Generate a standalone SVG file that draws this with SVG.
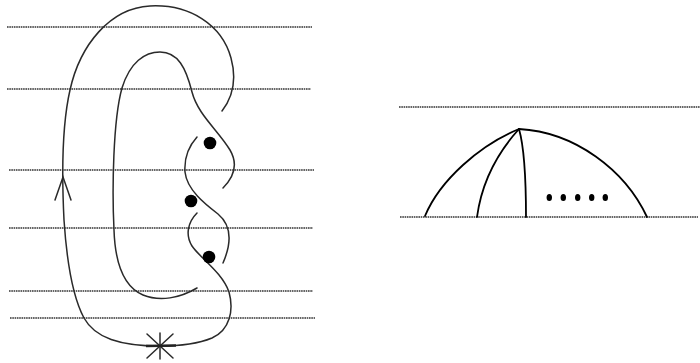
<svg xmlns="http://www.w3.org/2000/svg" width="700" height="363" viewBox="0 0 700 363">
<style>
.lvl{stroke:#333;stroke-width:1.3;stroke-dasharray:1.6 0.7;fill:none}
.str{stroke:#2a2a2a;stroke-width:1.5;fill:none;stroke-linecap:round}
.rs{stroke:#000;stroke-width:1.8;fill:none;stroke-linecap:round}
.dot{fill:#000}
</style>
<rect width="700" height="363" fill="#fff"/>
<g id="levels">
<line class="lvl" x1="7" y1="27" x2="312" y2="27"/>
<line class="lvl" x1="7" y1="89" x2="311" y2="89"/>
<line class="lvl" x1="9" y1="170" x2="314" y2="170"/>
<line class="lvl" x1="9" y1="228" x2="313" y2="228"/>
<line class="lvl" x1="9" y1="291" x2="313" y2="291"/>
<line class="lvl" x1="10" y1="318" x2="315" y2="318"/>
<line class="lvl" x1="399" y1="107" x2="700" y2="107"/>
<line class="lvl" x1="400" y1="217" x2="698" y2="217"/>
</g>
<g id="connectors">
<path class="str" d="M160,346 C120,346 95,338 84,318 C70,292 66,250 64,220 C62,180 62,125 70,90 C80,45 110,8 150,6 C190,4 222,25 231,58 C237,80 232,98 222,111"/>
<path class="str" d="M197,137 C188,147 184,158 185,172 C187,190 205,204 218,214 C230,224 233,240 223,263"/>
<path class="str" d="M197,288 C180,298 160,302 143,295 C122,286 115,260 114,230 C112,190 113,120 122,88 C130,62 145,52 160,52 C178,52 186,68 192,92 C198,115 218,130 230,150 C237,162 236,175 223,188"/>
<path class="str" d="M197,213 C188,222 185,235 192,246 C200,258 222,272 229,292 C234,310 230,330 212,338 C195,345 175,346 160,346"/>
<path class="str" d="M55,200 L63,177 L71,200"/>
<path class="rs" d="M519,129 C480,145 440,180 425,216"/>
<path class="rs" d="M519,129 C500,150 482,180 477,217"/>
<path class="rs" d="M519,129 C525,150 526,180 526,217"/>
<path class="rs" d="M519,129 C575,132 625,170 647,217"/>
</g>
<g id="basepoint">
<line class="str" x1="160" y1="333" x2="160" y2="359"/>
<line class="str" x1="147" y1="334" x2="173" y2="358"/>
<line class="str" x1="173" y1="334" x2="147" y2="358"/>
<line x1="146" y1="346" x2="176" y2="345.5" stroke="#222" stroke-width="2.4"/>
</g>
<g id="dots-left">
<circle class="dot" cx="210" cy="143" r="6.3"/>
<circle class="dot" cx="191" cy="201" r="6.3"/>
<circle class="dot" cx="209" cy="257" r="6.3"/>
</g>
<g id="dots-right">
<ellipse class="dot" cx="549.3" cy="197.5" rx="2.7" ry="3.6"/>
<ellipse class="dot" cx="563.3" cy="197.5" rx="2.7" ry="3.6"/>
<ellipse class="dot" cx="577.7" cy="197.5" rx="2.7" ry="3.6"/>
<ellipse class="dot" cx="591.7" cy="197.5" rx="2.7" ry="3.6"/>
<ellipse class="dot" cx="605.3" cy="197.5" rx="2.7" ry="3.6"/>
</g>
</svg>
